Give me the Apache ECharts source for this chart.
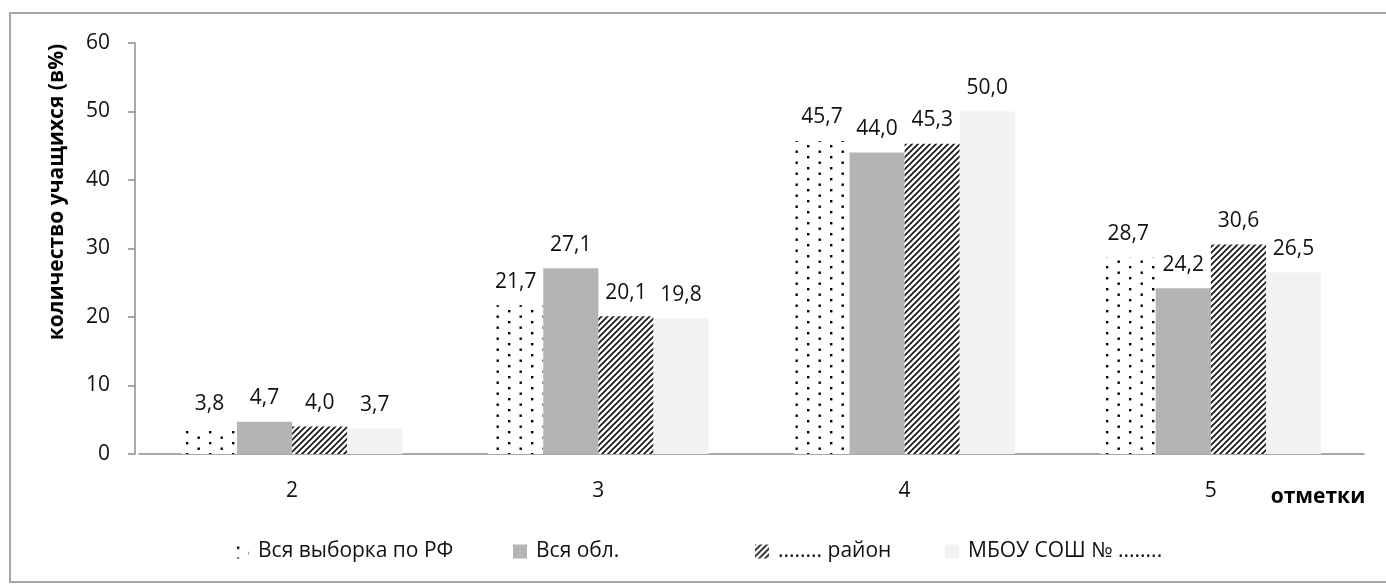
<!DOCTYPE html>
<html><head><meta charset="utf-8">
<script src="https://cdn.jsdelivr.net/npm/echarts@6/dist/echarts.min.js"></script>
<style>html,body{margin:0;padding:0;background:#fff}#c{width:1386px;height:584px}</style>
</head><body><div id="c"></div>
<script>
const categories = ['2', '3', '4', '5'];
const seriesNames = ['Вся выборка по РФ', 'Вся обл.', '........ район', 'МБОУ СОШ № ........'];
const rfValues = [3.8, 21.7, 45.7, 28.7];
const oblValues = [4.7, 27.1, 44.0, 24.2];
const rayonValues = [4.0, 20.1, 45.3, 30.6];
const schoolValues = [3.7, 19.8, 50.0, 26.5];
const yTicks = [0, 10, 20, 30, 40, 50, 60];
const yAxisTitle = 'количество учащихся (в%)';
const xAxisTitle = 'отметки';

function dotPattern() {
  const c = document.createElement('canvas');
  c.width = 23; c.height = 22;
  const g = c.getContext('2d');
  g.fillStyle = '#fff'; g.fillRect(0, 0, 23, 22);
  g.fillStyle = '#000';
  [[2,2],[13.5,7.5],[2,13],[13.5,18.5]].forEach(([x,y]) => {
    g.fillRect(x, y, 2.4, 2.4);
  });
  return c;
}
function hatchPattern() {
  const s = 6;
  const c = document.createElement('canvas');
  c.width = s; c.height = s;
  const g = c.getContext('2d');
  g.fillStyle = '#fff'; g.fillRect(0, 0, s, s);
  g.strokeStyle = '#111'; g.lineWidth = 1.6;
  g.beginPath();
  g.moveTo(-1, s + 1); g.lineTo(s + 1, -1);
  g.moveTo(-1, 1); g.lineTo(1, -1);
  g.moveTo(s - 1, s + 1); g.lineTo(s + 1, s - 1);
  g.stroke();
  return c;
}
const dotFill = { image: dotPattern(), repeat: 'repeat' };
const hatchFill = { image: hatchPattern(), repeat: 'repeat' };
const fills = [dotFill, '#b4b4b4', hatchFill, '#f2f2f2'];
const valuesList = [rfValues, oblValues, rayonValues, schoolValues];

const FONT = 'Open Sans';
const TXT = '#111';
const chart = echarts.init(document.getElementById('c'));
const legendLefts = [230, 508, 750, 940];
chart.setOption({
  animation: false,
  backgroundColor: '#fff',
  grid: { left: 139, right: 22, top: 43, bottom: 130 },
  legend: seriesNames.map((n, i) => ({
    data: [n], left: legendLefts[i], top: 536, itemWidth: 14, itemHeight: 14, itemGap: 10,
    icon: 'rect', selectedMode: false,
    textStyle: { fontFamily: FONT, fontSize: 21, color: TXT, padding: [0, 0, 0, 4] }
  })),
  xAxis: {
    type: 'category', data: categories,
    axisLine: { lineStyle: { color: '#8c8c8c', width: 1.5 } },
    axisTick: { show: false },
    axisLabel: { fontFamily: FONT, fontSize: 21, color: TXT, margin: 27 }
  },
  yAxis: {
    type: 'value', min: 0, max: 60, interval: 10, offset: 4,
    axisLine: { show: true, lineStyle: { color: '#8c8c8c', width: 1.5 } },
    axisTick: { show: true, length: 7, lineStyle: { color: '#8c8c8c', width: 1.5 } },
    splitLine: { show: false },
    axisLabel: { fontFamily: FONT, fontSize: 21, color: TXT, margin: 25,
      formatter: v => yTicks.includes(v) ? String(v) : '' }
  },
  series: valuesList.map((vals, i) => ({
    name: seriesNames[i], type: 'bar', data: vals,
    barGap: '0%', barCategoryGap: '28%',
    itemStyle: { color: fills[i] },
    label: { show: true, position: 'top', distance: 13, fontFamily: FONT, fontSize: 21, color: TXT,
      formatter: p => p.value.toFixed(1).replace('.', ',') }
  })),
  graphic: [
    { type: 'rect', shape: { x: 10, y: 13, width: 1400, height: 569 }, silent: true,
      style: { fill: null, stroke: '#a6a6a6', lineWidth: 2 } },
    { type: 'text', x: 57, y: 192, rotation: Math.PI / 2, silent: true,
      style: { text: yAxisTitle, fontFamily: FONT, fontWeight: 'bold', fontSize: 21, fill: '#000',
        align: 'center', verticalAlign: 'middle' } },
    { type: 'text', x: 1318, y: 497, silent: true,
      style: { text: xAxisTitle, fontFamily: FONT, fontWeight: 'bold', fontSize: 21, fill: '#000',
        align: 'center', verticalAlign: 'middle' } }
  ]
});
</script></body></html>
